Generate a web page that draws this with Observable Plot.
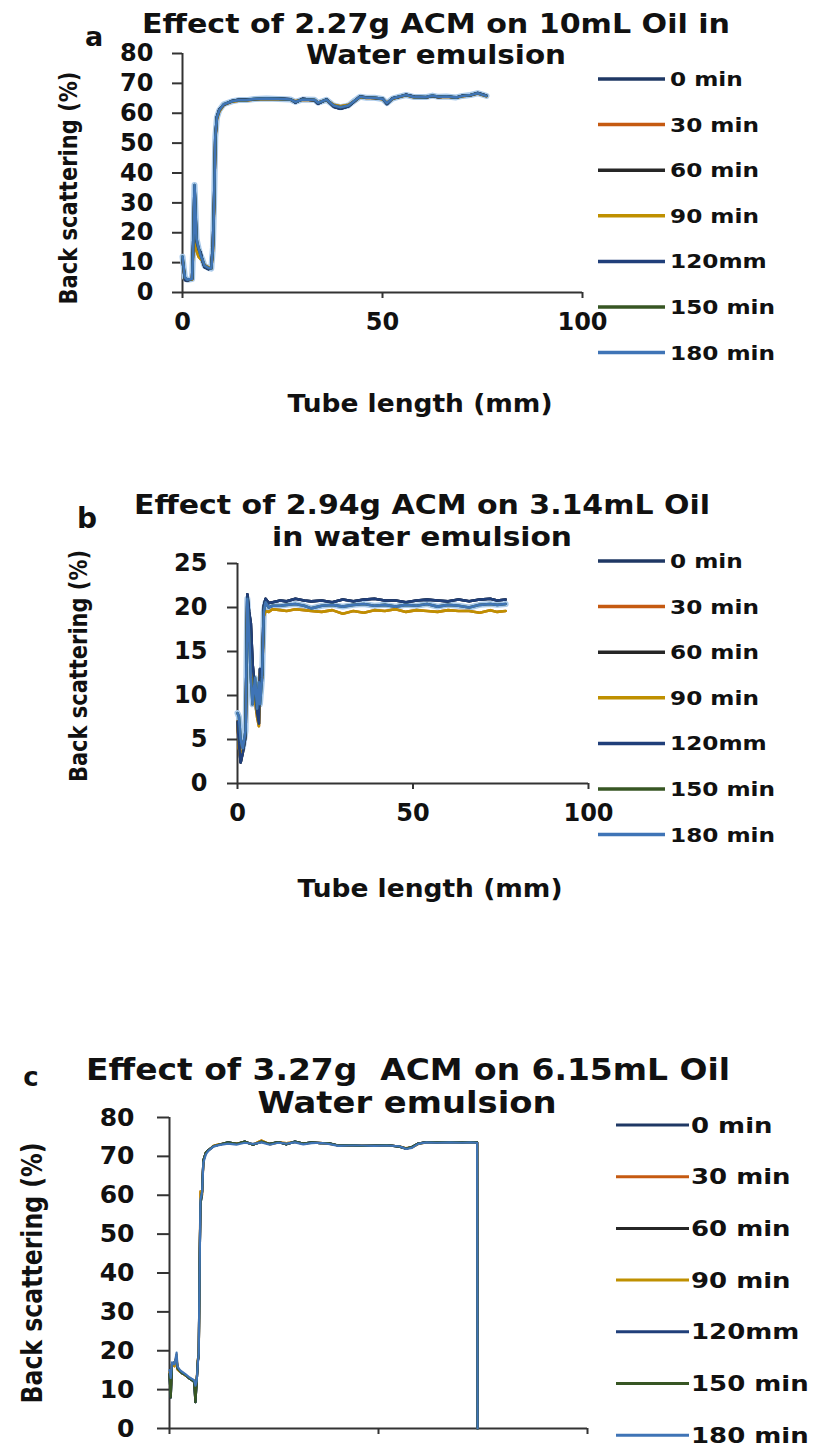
<!DOCTYPE html>
<html>
<head>
<meta charset="utf-8">
<script src="https://cdn.jsdelivr.net/npm/d3@7"></script>
<script src="https://cdn.jsdelivr.net/npm/@observablehq/plot@0.6"></script>
<style>
  html, body { margin: 0; padding: 0; background: #fff; }
  #root { position: relative; width: 815px; height: 1448px; overflow: hidden; background: #fff; }
  #root svg [aria-label*="axis"] line,
  #root svg [aria-label*="axis"] path { stroke: #333; stroke-width: 2px; }
</style>
</head>
<body>
<div id="root"></div>
<script>
// ---------- data ----------
const seriesNames = ["0 min", "30 min", "60 min", "90 min", "120mm", "150 min", "180 min"];
const seriesColors = ["#1f3864", "#c55a11", "#262626", "#bf9000", "#203f7a", "#375623", "#3f74b6"];

const titlesA = ["Effect of 2.27g ACM on 10mL Oil in", "Water emulsion"];
const titlesB = ["Effect of 2.94g ACM on 3.14mL Oil", "in water emulsion"];
const titlesC = ["Effect of 3.27g  ACM on 6.15mL Oil", "Water emulsion"];
const yTitle = "Back scattering (%)";
const xTitle = "Tube length (mm)";
const xTicks = [0, 50, 100];
const yTicksA = [0, 10, 20, 30, 40, 50, 60, 70, 80];
const yTicksB = [0, 5, 10, 15, 20, 25];
const yTicksC = [0, 10, 20, 30, 40, 50, 60, 70, 80];

// Panel a: tube length (mm)
const xsA = [0, 0.6, 1.2, 2.4, 2.8, 3.0, 3.5, 4.0, 4.5, 5.0, 5.5, 6.5, 7.2, 7.6, 7.9, 8.2, 8.6, 9.2, 10.3, 12.4,
  14, 16, 18, 21, 24, 27, 28.2, 30, 33, 33.9, 36, 37.8, 39.5, 41.5, 43, 44.4, 46, 48, 50, 51.1,
  52.5, 54, 55.9, 58, 60.8, 62.5, 64, 66, 68.4, 70, 72, 73.8, 76];
const a0 = [11, 4.2, 4.0, 4.6, 22, 35.5, 17, 14.5, 13.5, 10.5, 8.5, 7.8, 8.3, 16, 30.5, 51.5, 58.8, 61.2, 62.8, 64.1,
  64.5, 64.6, 64.7, 65.0, 64.9, 64.7, 63.6, 64.8, 64.3, 63.2, 64.6, 62.2, 61.5, 62.3, 64.0, 65.6, 65.3, 65.1, 64.9, 63.1,
  65.0, 65.4, 66.2, 65.5, 65.3, 65.8, 65.4, 65.7, 65.2, 65.9, 66.0, 66.8, 65.9];
const a30 = [11.5, 4.5, 4.2, 4.4, 19, 33, 14, 12, 11.3, 10.6, 9.2, 8.4, 8.1, 14, 29, 51, 58, 60.6, 62.8, 63.9,
  64.2, 64.3, 64.6, 64.8, 64.7, 64.5, 64.0, 64.5, 64.4, 63.6, 64.4, 62.8, 62.3, 62.8, 64.1, 65.4, 65.1, 65.1, 64.7, 63.5,
  64.8, 65.4, 66.0, 65.3, 65.3, 65.8, 65.4, 65.5, 65.2, 65.7, 66.0, 66.6, 65.7];
const a60 = a0, a90 = a30, a120 = a0;
const a180 = [12, 5, 4.3, 4.5, 20, 36, 18, 15, 12.5, 11, 9, 8.2, 8, 15, 30, 52, 58.5, 61, 63, 64,
  64.4, 64.4, 64.8, 64.9, 64.8, 64.6, 63.8, 64.6, 64.5, 63.5, 64.5, 62.6, 62.0, 62.6, 64.2, 65.5, 65.2, 65.2, 64.8, 63.4,
  64.9, 65.5, 66.1, 65.4, 65.4, 65.9, 65.5, 65.6, 65.3, 65.8, 66.1, 66.7, 65.8];
const a150 = a180;

// Panel b
const xsB = [0, 0.4, 0.9, 1.5, 2.3, 2.8, 3.3, 3.8, 4.3, 5.0, 5.6, 6.1, 6.4, 7.0, 7.5, 8.0, 8.9, 10, 12.2, 14,
  16.5, 19, 21, 24, 27, 30, 33, 36, 39, 42, 45, 48, 51, 54, 57, 60, 63, 66, 69, 72, 74, 76.4];
const b0 = [7.0, 4.5, 2.4, 3.5, 5.4, 21.5, 19.5, 18.2, 13.6, 10.5, 8.0, 6.8, 13.0, 12.3, 20.2, 21.0, 20.5, 20.6, 20.8, 20.7,
  21.0, 20.8, 20.7, 20.8, 20.6, 20.9, 20.7, 20.9, 21.0, 20.8, 20.8, 20.6, 20.8, 20.9, 20.8, 20.7, 20.9, 20.7, 20.9, 21.0, 20.8, 20.9];
const b30 = [7.0, 4.0, 2.8, 3.8, 5.5, 20.5, 17.5, 16.0, 12.0, 9.5, 7.5, 6.5, 12.5, 12.0, 19.0, 19.6, 19.5, 19.8, 19.7, 19.6,
  19.8, 19.7, 19.6, 19.5, 19.7, 19.3, 19.6, 19.4, 19.7, 19.6, 19.8, 19.5, 19.7, 19.6, 19.5, 19.7, 19.6, 19.6, 19.4, 19.7, 19.5, 19.6];
const b180 = [8.0, 7.6, 5.0, 4.0, 6.0, 21.0, 17.0, 12.0, 9.0, 12.0, 8.5, 11.5, 9.0, 12.0, 19.5, 20.6, 20.0, 20.2, 20.2, 20.3,
  20.4, 20.2, 19.9, 20.2, 20.3, 20.1, 20.3, 20.4, 20.2, 20.3, 20.1, 20.3, 20.2, 20.4, 20.1, 20.3, 20.2, 20.0, 20.3, 20.4, 20.3, 20.4];
const b60 = b0, b90 = b30, b120 = b0, b150 = b180;

// Panel c
const xsC = [0, 0.3, 0.6, 1.2, 1.7, 1.9, 2.5, 3.0, 3.8, 4.6, 5.3, 5.9, 6.2, 6.5, 6.8, 7.0, 7.2, 7.4, 7.8, 8.1,
  8.7, 9.3, 10.5, 11.8, 14, 16, 18, 20, 22, 24, 26, 28, 30, 32, 34, 36, 38, 40.4, 43, 46,
  49, 52, 55, 56.6, 58, 59.5, 61.5, 64, 67, 70, 72, 73.6, 73.7];
const c0 = [14, 8, 16.5, 17, 18, 15.5, 14.8, 14.2, 13.8, 13.0, 12.5, 12.0, 6.8, 12.0, 17.5, 19.0, 42, 57.5, 61, 69,
  71, 71.6, 72.6, 73.0, 73.6, 73.2, 73.8, 73.0, 73.8, 73.2, 73.7, 73.1, 73.8, 73.3, 73.6, 73.4, 73.4, 72.8, 72.9, 72.7,
  72.8, 72.9, 72.5, 72.0, 72.4, 73.3, 73.7, 73.6, 73.7, 73.6, 73.7, 73.6, 0];
const c30 = [14.5, 10, 16.8, 16, 19, 15.2, 14.6, 14.3, 13.6, 13.1, 12.6, 12.2, 9, 12.4, 18, 18.5, 41, 61, 60, 68.8,
  71, 71.5, 72.7, 73.1, 73.4, 73.3, 73.7, 73.1, 74.1, 73.1, 73.6, 73.4, 73.7, 73.2, 73.5, 73.5, 73.3, 72.8, 72.8, 72.8,
  72.7, 72.8, 72.6, 72.1, 72.3, 73.2, 73.6, 73.6, 73.6, 73.5, 73.6, 73.5, 0];
const c180 = [15, 13, 17, 16.5, 19.5, 16, 15, 14.6, 14, 13.3, 12.8, 12.4, 11, 12.2, 17, 19.3, 40, 58.9, 60.7, 68.4,
  70.5, 71.4, 72.5, 72.9, 73.3, 73.0, 73.5, 73.2, 73.6, 73.0, 73.5, 73.3, 73.6, 73.1, 73.4, 73.5, 73.2, 72.7, 72.8, 72.8,
  72.7, 72.8, 72.6, 71.9, 72.2, 73.2, 73.6, 73.5, 73.6, 73.5, 73.6, 73.5, 0];
const c60 = c0, c90 = c30, c120 = c0, c150 = c0;

// ---------- drawing ----------
const W = 815, H = 1448;
const root = document.getElementById("root");
const FONT = "DejaVu Sans, Verdana, sans-serif";

function addPlot(cfg) {
  const data = [];
  cfg.series.forEach((vals, i) => vals.forEach((v, j) => data.push({tube: cfg.xs[j], bs: v, time: seriesNames[i]})));
  const last = seriesNames[seriesNames.length - 1];
  const marks = [
    Plot.ruleY([0], {stroke: "#333", strokeWidth: 2}),
    Plot.ruleX([0], {stroke: "#333", strokeWidth: 2})
  ];
  if (cfg.halo) {
    // soft light-blue glow under the 180 min trace, as in the reference
    marks.push(Plot.line(data.filter(d => d.time === last),
      {x: "tube", y: "bs", stroke: "#a9c9ea", strokeWidth: cfg.halo, strokeLinejoin: "round"}));
  }
  marks.push(Plot.line(data, {x: "tube", y: "bs", z: "time", stroke: "time", strokeWidth: cfg.sw, strokeLinejoin: "round"}));
  const chart = Plot.plot({
    width: W, height: cfg.height,
    marginTop: cfg.mt, marginBottom: cfg.mb, marginLeft: cfg.ml, marginRight: cfg.mr,
    style: {background: "transparent", color: "#111", fontFamily: FONT, fontWeight: "bold", fontSize: cfg.font + "px", overflow: "visible"},
    x: {domain: [0, 100], ticks: xTicks, tickSize: 6, tickPadding: cfg.xPad,
        tickFormat: cfg.xLabels ? (d) => String(d) : () => "", label: null},
    y: {domain: [cfg.yTicks[0], cfg.yTicks[cfg.yTicks.length - 1]], ticks: cfg.yTicks,
        tickSize: cfg.yTick, tickPadding: cfg.yPad, label: null},
    color: {domain: seriesNames, range: seriesColors},
    marks
  });
  chart.style.position = "absolute";
  chart.style.top = cfg.top + "px";
  chart.style.left = "0px";
  root.appendChild(chart);
}

addPlot({top: 0, height: 345, mt: 53, mb: 53, ml: 182, mr: 233, font: 24, xPad: 14, yTick: 10, yPad: 19,
  xLabels: true, yTicks: yTicksA, xs: xsA, sw: 2.6, halo: 6,
  series: [a0, a30, a60, a90, a120, a150, a180]});
addPlot({top: 440, height: 403, mt: 123, mb: 60, ml: 237, mr: 227, font: 24, xPad: 14, yTick: 10, yPad: 20,
  xLabels: true, yTicks: yTicksB, xs: xsB, sw: 2.6, halo: 6,
  series: [b0, b30, b60, b90, b120, b150, b180]});
addPlot({top: 1000, height: 448, mt: 117, mb: 20, ml: 169, mr: 228, font: 25, xPad: 14, yTick: 12, yPad: 23,
  xLabels: false, yTicks: yTicksC, xs: xsC, sw: 2.2, halo: 0,
  series: [c0, c30, c60, c90, c120, c150, c180]});

// overlay for titles, axis titles and legends
const ov = d3.select(root).append("svg")
  .attr("width", W).attr("height", H)
  .style("position", "absolute").style("top", "0px").style("left", "0px")
  .attr("font-family", FONT).attr("font-weight", "bold").attr("fill", "#111");

function label(txt, x, y, size, len, rot) {
  const t = ov.append("text").text(txt)
    .attr("font-size", size)
    .attr("text-anchor", "middle")
    .attr("dominant-baseline", "central")
    .style("white-space", "pre")
    .attr("transform", `translate(${x},${y})` + (rot ? " rotate(-90)" : ""));
  if (len) t.attr("textLength", len).attr("lengthAdjust", "spacingAndGlyphs");
  return t;
}

function legend(x0, x1, tx, y0, step, size, sx, sw) {
  seriesNames.forEach((name, i) => {
    const y = y0 + i * step;
    ov.append("line").attr("x1", x0).attr("x2", x1).attr("y1", y).attr("y2", y)
      .attr("stroke", seriesColors[i]).attr("stroke-width", sw);
    const t = ov.append("text").text(name).attr("x", tx).attr("y", y)
      .attr("font-size", size).attr("dominant-baseline", "central");
    const n = t.node().getComputedTextLength();
    t.attr("textLength", n * sx).attr("lengthAdjust", "spacingAndGlyphs");
  });
}

// Panel a
label("a", 94, 36, 27);
label(titlesA[0], 436, 24, 26, 588);
label(titlesA[1], 436, 55, 26, 260);
label(yTitle, 68, 188, 25, 233, true);
label(xTitle, 420, 403, 25, 265);
legend(598, 665, 670, 79, 45.6, 19, 1.22, 3.5);

// Panel b
label("b", 87, 518, 28);
label(titlesB[0], 422, 505, 26, 576);
label(titlesB[1], 422, 537, 26, 300);
label(yTitle, 78, 666, 25, 232, true);
label(xTitle, 430, 888, 25, 265);
legend(598, 665, 670, 561, 45.6, 19, 1.22, 3.5);

// Panel c
label("c", 31, 1077, 26);
label(titlesC[0], 408, 1069, 30, 644);
label(titlesC[1], 407, 1102, 30, 299);
label(yTitle, 32, 1273, 29, 261, true);
legend(616, 689, 691, 1125, 51.7, 22, 1.18, 3);
</script>
</body>
</html>
